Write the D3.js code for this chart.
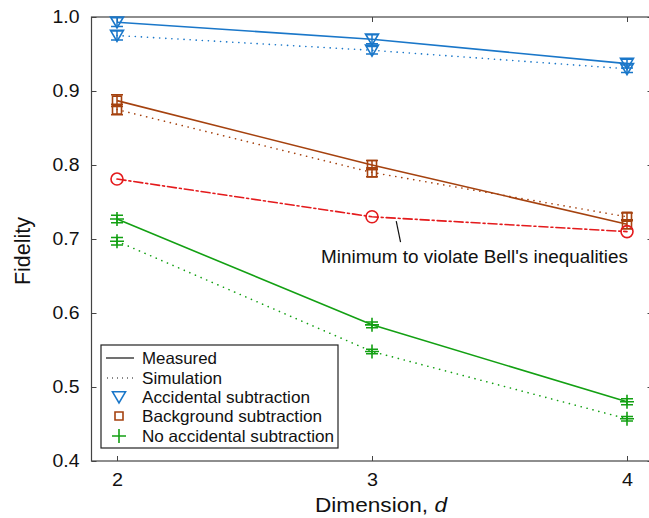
<!DOCTYPE html>
<html>
<head>
<meta charset="utf-8">
<script src="https://cdn.jsdelivr.net/npm/d3@7"></script>
<style>
  body { margin: 0; background: #fff; }
  svg { font-family: "Liberation Sans", Arial, sans-serif; }
</style>
</head>
<body>
<svg id="chart" width="649" height="518"></svg>
<script>
// data
var dims = [2, 3, 4];
var accMeasured = [0.993, 0.970, 0.937];
var accMeasuredErr = [0.006, 0.006, 0.006];
var accSim = [0.975, 0.955, 0.930];
var accSimErr = [0.006, 0.005, 0.005];
var bgMeasured = [0.887, 0.800, 0.720];
var bgMeasuredErr = [0.008, 0.006, 0.006];
var bgSim = [0.875, 0.790, 0.730];
var bgSimErr = [0.007, 0.006, 0.005];
var noAccMeasured = [0.727, 0.584, 0.480];
var noAccMeasuredErr = [0.005, 0.004, 0.004];
var noAccSim = [0.697, 0.548, 0.457];
var noAccSimErr = [0.005, 0.003, 0.003];
var bellMin = [0.781, 0.730, 0.710];
var yTicks = [0.4, 0.5, 0.6, 0.7, 0.8, 0.9, 1.0];
var legendLabels = ["Measured", "Simulation", "Accidental subtraction", "Background subtraction", "No accidental subtraction"];
var legendWidths = [75, 80, 168, 180, 192];

var svg = d3.select("#chart");
var blue = "#1a77c9", brown = "#a5420f", red = "#e41a1c", green = "#13a013";

var x = d3.scaleLinear().domain([1.9, 4.1]).range([91.5, 652.5]);
var y = d3.scaleLinear().domain([0.4, 1.0]).range([461, 17]);

// frame
svg.append("rect")
  .attr("x", x(1.9)).attr("y", y(1.0))
  .attr("width", x(4.1) - x(1.9)).attr("height", y(0.4) - y(1.0))
  .attr("fill", "none").attr("stroke", "#444").attr("stroke-width", 1.2);

// axes, ticks pointing inward
var yAxis = svg.append("g").attr("transform", "translate(" + x(1.9) + ",0)")
  .call(d3.axisLeft(y).tickValues(yTicks).tickFormat(d3.format(".1f")).tickSizeInner(-5).tickSizeOuter(0).tickPadding(12))
  .call(g => g.select(".domain").remove());
svg.append("g").attr("transform", "translate(" + x(4.1) + ",0)")
  .call(d3.axisRight(y).tickValues(yTicks).tickFormat("").tickSizeInner(-5).tickSizeOuter(0))
  .call(g => g.select(".domain").remove());
var xAxis = svg.append("g").attr("transform", "translate(0," + y(0.4) + ")")
  .call(d3.axisBottom(x).tickValues(dims).tickFormat(d3.format("d")).tickSizeInner(-5).tickSizeOuter(0).tickPadding(12))
  .call(g => g.select(".domain").remove());
svg.append("g").attr("transform", "translate(0," + y(1.0) + ")")
  .call(d3.axisTop(x).tickValues(dims).tickFormat("").tickSizeInner(-5).tickSizeOuter(0))
  .call(g => g.select(".domain").remove());
svg.selectAll(".tick line").attr("stroke", "#444");
svg.selectAll(".tick text").attr("font-size", 18).attr("fill", "#111").attr("font-family", "Liberation Sans, Arial, sans-serif");
yAxis.selectAll(".tick text").attr("textLength", 27).attr("lengthAdjust", "spacingAndGlyphs");
xAxis.selectAll(".tick text").attr("textLength", 11).attr("lengthAdjust", "spacingAndGlyphs");

// axis titles
svg.append("text").attr("transform", "translate(30,251) rotate(-90)")
  .attr("text-anchor", "middle").attr("font-size", 21.5).attr("fill", "#111").text("Fidelity");
var xl = svg.append("text").attr("x", 315).attr("y", 511.5)
  .attr("font-size", 19.5).attr("fill", "#111")
  .attr("textLength", 132).attr("lengthAdjust", "spacingAndGlyphs");
xl.append("tspan").text("Dimension, ");
xl.append("tspan").attr("font-style", "italic").text("d");

// lines
var line = d3.line().x((d, i) => x(dims[i])).y(d => y(d));
function series(vals, color, dash) {
  svg.append("path").datum(vals).attr("d", line)
    .attr("fill", "none").attr("stroke", color).attr("stroke-width", 1.6)
    .attr("stroke-dasharray", dash).attr("stroke-linecap", dash ? "round" : "butt");
}
series(accMeasured, blue, null);
series(accSim, blue, "0.1 6");
series(bgMeasured, brown, null);
series(bgSim, brown, "0.1 6");
series(noAccMeasured, green, null);
series(noAccSim, green, "0.1 6");
series(bellMin, red, "9 3 2 3");

// markers
function markerPath(type, s) {
  if (type === "tri") return "M" + (-s) + "," + (-s * 0.8) + "L" + s + "," + (-s * 0.8) + "L0," + (s * 0.9) + "Z";
  if (type === "sq") return "M" + (-s) + "," + (-s) + "H" + s + "V" + s + "H" + (-s) + "Z";
  if (type === "plus") return "M" + (-s) + ",0H" + s + "M0," + (-s) + "V" + s;
  return d3.arc()({innerRadius: 0, outerRadius: s, startAngle: 0, endAngle: 2 * Math.PI});
}
function markers(vals, errs, color, type, size) {
  var g = svg.append("g").selectAll("g").data(vals).join("g")
    .attr("transform", (d, i) => "translate(" + x(dims[i]) + "," + y(d) + ")");
  if (errs) {
    g.append("path")
      .attr("d", (d, i) => {
        var top = y(d + errs[i]) - y(d), bot = y(d - errs[i]) - y(d);
        return "M0," + top + "V" + bot + "M-6," + top + "H6M-6," + bot + "H6";
      })
      .attr("stroke", color).attr("stroke-width", 1.5).attr("fill", "none");
  }
  g.append("path").attr("d", markerPath(type, size))
    .attr("fill", "none").attr("stroke", color).attr("stroke-width", 1.6);
}
markers(accMeasured, accMeasuredErr, blue, "tri", 6.5);
markers(accSim, accSimErr, blue, "tri", 6.5);
markers(bgMeasured, bgMeasuredErr, brown, "sq", 4.5);
markers(bgSim, bgSimErr, brown, "sq", 4.5);
markers(noAccMeasured, noAccMeasuredErr, green, "plus", 7);
markers(noAccSim, noAccSimErr, green, "plus", 7);
markers(bellMin, null, red, "circle", 6);

// annotation
svg.append("line")
  .attr("x1", x(3.095)).attr("y1", y(0.7295) + 4)
  .attr("x2", x(3.112)).attr("y2", y(0.7295) + 25)
  .attr("stroke", "#111").attr("stroke-width", 1.2);
svg.append("text").attr("x", 321).attr("y", 263).attr("font-size", 17.5).attr("fill", "#111")
  .attr("textLength", 307).attr("lengthAdjust", "spacingAndGlyphs")
  .text("Minimum to violate Bell's inequalities");

// legend
var lg = svg.append("g").attr("transform", "translate(101,345)");
lg.append("rect").attr("width", 237).attr("height", 103)
  .attr("fill", "#fff").attr("stroke", "#222").attr("stroke-width", 1.2);
var rowsY = [13, 33, 52, 71, 91];
legendLabels.forEach(function (t, i) {
  lg.append("text").attr("x", 41).attr("y", rowsY[i] + 5.5).attr("font-size", 16.5).attr("fill", "#111")
    .attr("textLength", legendWidths[i]).attr("lengthAdjust", "spacingAndGlyphs").text(t);
});
lg.append("line").attr("x1", 5).attr("x2", 33).attr("y1", rowsY[0]).attr("y2", rowsY[0]).attr("stroke", "#111").attr("stroke-width", 1.2);
lg.append("line").attr("x1", 6).attr("x2", 33).attr("y1", rowsY[1]).attr("y2", rowsY[1]).attr("stroke", "#111").attr("stroke-width", 1.2).attr("stroke-dasharray", "1 4");
lg.append("path").attr("transform", "translate(18," + rowsY[2] + ")").attr("d", markerPath("tri", 6.5)).attr("fill", "none").attr("stroke", blue).attr("stroke-width", 1.6);
lg.append("path").attr("transform", "translate(18," + rowsY[3] + ")").attr("d", markerPath("sq", 4)).attr("fill", "none").attr("stroke", brown).attr("stroke-width", 1.6);
lg.append("path").attr("transform", "translate(18," + rowsY[4] + ")").attr("d", markerPath("plus", 7)).attr("fill", "none").attr("stroke", green).attr("stroke-width", 1.6);
</script>
</body>
</html>
